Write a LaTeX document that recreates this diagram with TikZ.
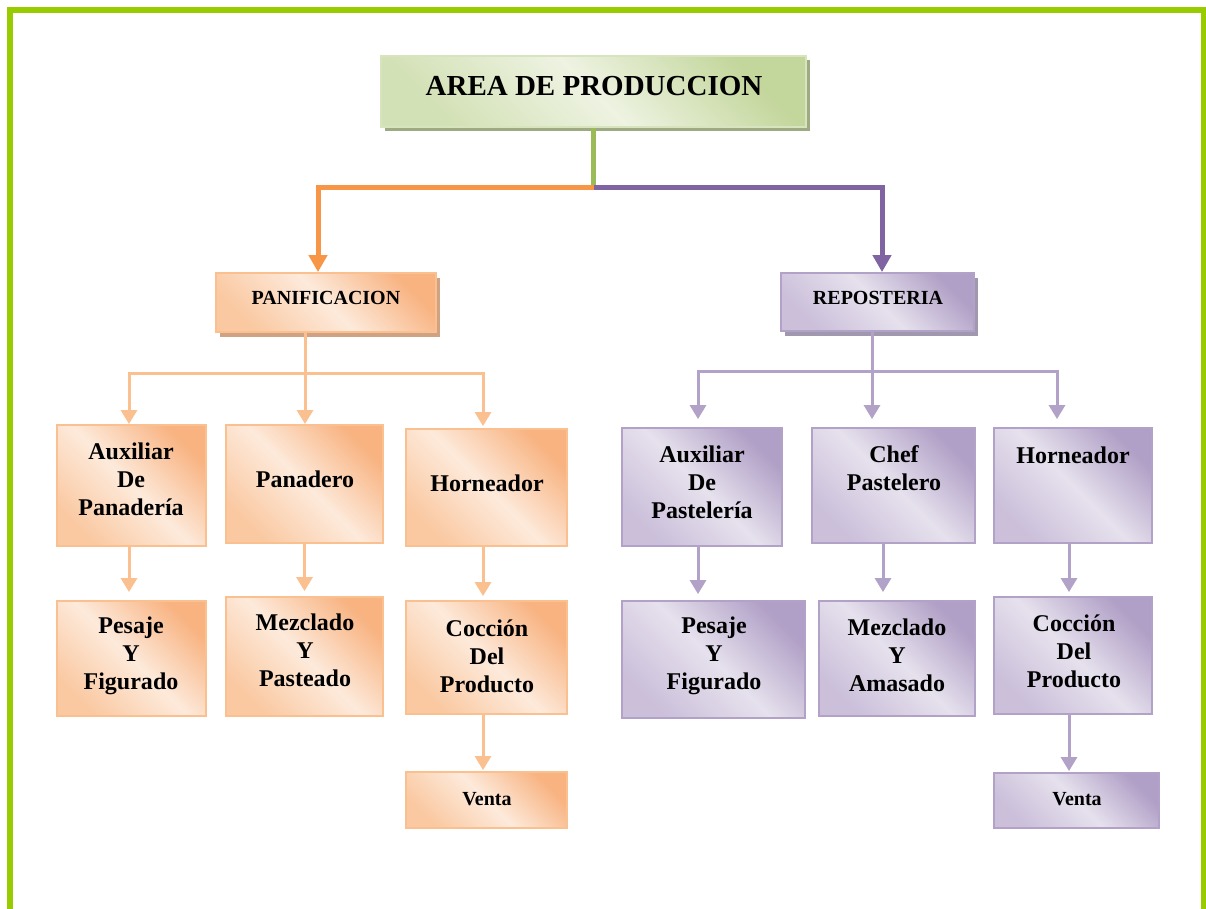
\documentclass[tikz,border=0pt]{standalone}
\usepackage{fontspec}
\setmainfont{Liberation Serif}
\usetikzlibrary{arrows.meta,shadows}
\definecolor{bordergreen}{HTML}{99CC00}
\definecolor{gdark}{HTML}{C3D69B}
\definecolor{glight}{HTML}{EEF3E2}
\definecolor{gmid}{HTML}{D3E1B6}
\definecolor{gedge}{HTML}{D7E4BD}
\definecolor{gshadow}{HTML}{9EAA82}
\definecolor{stemgreen}{HTML}{9BBB59}
\definecolor{mainorange}{HTML}{F79646}
\definecolor{mainpurple}{HTML}{8064A2}
\definecolor{odark}{HTML}{F8B381}
\definecolor{olight}{HTML}{FDEADB}
\definecolor{omid}{HTML}{FAC9A2}
\definecolor{oedge}{HTML}{FAC090}
\definecolor{oshadow}{HTML}{CFA283}
\definecolor{pdark}{HTML}{B09FC6}
\definecolor{plight}{HTML}{E6E1ED}
\definecolor{pmid}{HTML}{CBBFDA}
\definecolor{pedge}{HTML}{B3A2C7}
\definecolor{pshadow}{HTML}{A098AE}
\tikzset{
  obox/.style={draw=oedge, line width=1.8pt, top color=odark, bottom color=omid, middle color=olight, shading angle=-45, inner sep=0pt},
  pbox/.style={draw=pedge, line width=1.8pt, top color=pdark, bottom color=pmid, middle color=plight, shading angle=-45, inner sep=0pt},
  txt/.style={font=\bfseries\fontsize{24}{28}\selectfont, align=center, inner sep=0pt, text=black},
  stxt/.style={font=\bfseries\fontsize{20}{24}\selectfont, align=center, inner sep=0pt, text=black},
  oline/.style={draw=oedge, line width=3pt, -{Triangle[width=16pt,length=14pt]}},
  pline/.style={draw=pedge, line width=3pt, -{Triangle[width=16pt,length=14pt]}},
}
\begin{document}
\begin{tikzpicture}[x=1pt,y=-1pt]
\useasboundingbox (0,0) rectangle (1206,909);
\draw[line width=6pt, draw=bordergreen] (10,909) -- (10,10) -- (1204,10) -- (1204,909);

% top
\node[draw=gedge, line width=1.8pt, top color=gdark, bottom color=gmid, middle color=glight, shading angle=-45,
      minimum width=425pt, minimum height=71pt, inner sep=0pt,
      drop shadow={shadow xshift=4pt, shadow yshift=-4pt, fill=gshadow, opacity=1}] (top) at (593.5,91.5) {};
\node[font=\bfseries\fontsize{29}{34}\selectfont, inner sep=0pt] (toptxt) at (594,86) {AREA DE PRODUCCION};

% second level
\node[obox, minimum width=220pt, minimum height=59pt,
      drop shadow={shadow xshift=4pt, shadow yshift=-5pt, fill=oshadow, opacity=1}] (panif) at (326,302.5) {};
\node[stxt] (paniftxt) at (326,298) {PANIFICACION};
\node[pbox, minimum width=193pt, minimum height=58pt,
      drop shadow={shadow xshift=4pt, shadow yshift=-5pt, fill=pshadow, opacity=1}] (repos) at (877.5,302) {};
\node[stxt] (repostxt) at (878,298) {REPOSTERIA};

% left boxes
\node[obox, minimum width=149pt, minimum height=121pt] (auxpan) at (131.5,485.5) {};
\node[txt] (auxpantxt) at (131,479) {Auxiliar\\De\\Panadería};
\node[obox, minimum width=157pt, minimum height=118pt] (panad) at (304.5,484) {};
\node[txt] (panadtxt) at (305,479) {Panadero};
\node[obox, minimum width=161pt, minimum height=117pt] (hornL) at (486.5,487.5) {};
\node[txt] (hornLtxt) at (487,483) {Horneador};
\node[obox, minimum width=149pt, minimum height=115pt] (pesL) at (131.5,658.5) {};
\node[txt] (pesLtxt) at (131,656) {Pesaje\\Y\\Figurado};
\node[obox, minimum width=157pt, minimum height=119pt] (mezL) at (304.5,656.5) {};
\node[txt] (mezLtxt) at (305,650) {Mezclado\\Y\\Pasteado};
\node[obox, minimum width=161pt, minimum height=113pt] (cocL) at (486.5,657.5) {};
\node[txt] (cocLtxt) at (487,656) {Cocción\\Del\\Producto};
\node[obox, minimum width=161pt, minimum height=56pt] (venL) at (486.5,800) {};
\node[stxt] (venLtxt) at (487,799) {Venta};

% right boxes
\node[pbox, minimum width=160pt, minimum height=118pt] (auxpast) at (702,487) {};
\node[txt] (auxpasttxt) at (702,482) {Auxiliar\\De\\Pastelería};
\node[pbox, minimum width=163pt, minimum height=115pt] (chef) at (893.5,485.5) {};
\node[txt] (cheftxt) at (894,468) {Chef\\Pastelero};
\node[pbox, minimum width=158pt, minimum height=115pt] (hornR) at (1073,485.5) {};
\node[txt] (hornRtxt) at (1073,455) {Horneador};
\node[pbox, minimum width=183pt, minimum height=117pt] (pesR) at (713.5,659.5) {};
\node[txt] (pesRtxt) at (714,656) {Pesaje\\Y\\Figurado};
\node[pbox, minimum width=156pt, minimum height=115pt] (mezR) at (897,658.5) {};
\node[txt] (mezRtxt) at (897,655) {Mezclado\\Y\\Amasado};
\node[pbox, minimum width=158pt, minimum height=117pt] (cocR) at (1073,655.5) {};
\node[txt] (cocRtxt) at (1074,651) {Cocción\\Del\\Producto};
\node[pbox, minimum width=165pt, minimum height=55pt] (venR) at (1076.5,800.5) {};
\node[stxt] (venRtxt) at (1077,799) {Venta};

% main connectors
\coordinate (j) at (593.5,188);
\draw[line width=5pt, draw=stemgreen] (top.south) -- (j);
\draw[line width=5pt, draw=mainorange, -{Triangle[width=18pt,length=17pt]}] (j) -| ([xshift=-8pt]panif.north);
\draw[line width=5pt, draw=mainpurple, -{Triangle[width=18pt,length=17pt]}] (j) -| ([xshift=4.5pt]repos.north);

% left sub connectors
\coordinate (lh) at (305,373);
\draw[oline] ([xshift=-21pt]panif.south) -- ([xshift=0.5pt]panad.north);
\draw[oline] (lh) -| ([xshift=-2.5pt]auxpan.north);
\draw[oline, shorten >=2pt] (lh) -| ([xshift=-3.5pt]hornL.north);

% right sub connectors
\coordinate (rh) at (872,371);
\draw[pline, shorten >=8pt] ([xshift=-5.5pt]repos.south) -- ([xshift=-21.5pt]chef.north);
\draw[pline, shorten >=8pt] (rh) -| ([xshift=-4pt]auxpast.north);
\draw[pline, shorten >=8pt] (rh) -| ([xshift=-16pt]hornR.north);

% left verticals
\draw[oline, shorten >=8pt] ([xshift=-2.5pt]auxpan.south) -- ([xshift=-2.5pt]pesL.north);
\draw[oline, shorten >=5pt] (panad.south) -- (mezL.north);
\draw[oline, shorten >=4pt] ([xshift=-3.5pt]hornL.south) -- ([xshift=-3.5pt]cocL.north);
\draw[oline, shorten >=1pt] ([xshift=-3.5pt]cocL.south) -- ([xshift=-3.5pt]venL.north);

% right verticals
\draw[pline, shorten >=6pt] ([xshift=-4pt]auxpast.south) -- ([xshift=-15.5pt]pesR.north);
\draw[pline, shorten >=8pt] ([xshift=-10.5pt]chef.south) -- ([xshift=-14pt]mezR.north);
\draw[pline, shorten >=4pt] ([xshift=-4pt]hornR.south) -- ([xshift=-4pt]cocR.north);
\draw[pline, shorten >=1pt] ([xshift=-4pt]cocR.south) -- ([xshift=-7.5pt]venR.north);
\end{tikzpicture}
\end{document}
